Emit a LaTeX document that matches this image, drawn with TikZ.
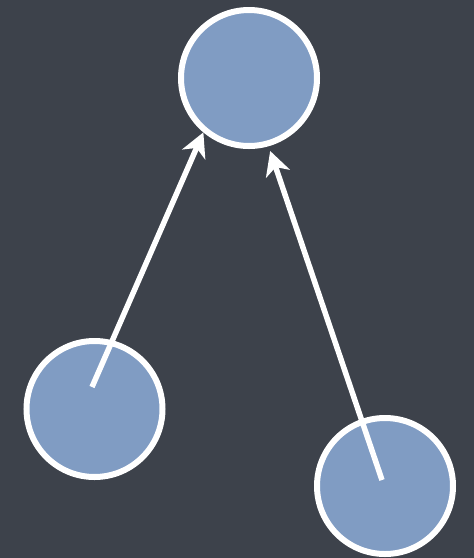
\documentclass[tikz,border=0pt]{standalone}
\usetikzlibrary{arrows.meta}
\definecolor{bg}{HTML}{3D424B}
\definecolor{ballfill}{HTML}{809CC3}
\begin{document}
\begin{tikzpicture}[x=1pt,y=-1pt,
  ball/.style={circle,draw=white,fill=ballfill,line width=6pt,minimum size=136pt,inner sep=0pt},
  link/.style={draw=white,line width=5.5pt,-{Stealth[length=24pt,width=25pt,inset=7pt]}}]
\fill[bg] (0,0) rectangle (474,558);
\useasboundingbox (0,0) rectangle (474,558);
\node[ball] (top) at (249,78) {};
\node[ball] (left) at (94.5,409) {};
\node[ball] (right) at (385,486) {};
\coordinate (s1) at (92,387);
\coordinate (s2) at (382,480);
\draw[link] (s1) -- (top.230);
\draw[link, shorten >=5pt] (s2) -- (top.286);
\end{tikzpicture}
\end{document}
